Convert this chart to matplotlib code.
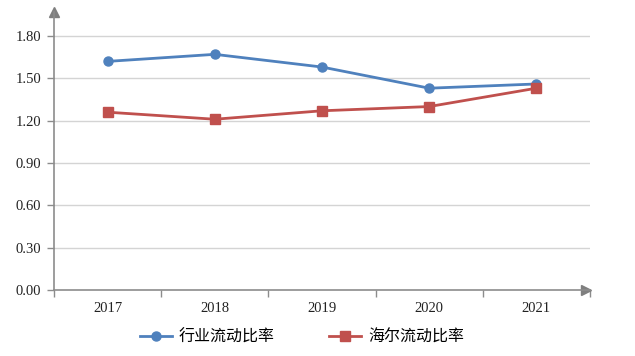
import numpy as np
import matplotlib.pyplot as plt

years = ["2017", "2018", "2019", "2020", "2021"]
industry = [1.62, 1.67, 1.58, 1.43, 1.46]
haier = [1.26, 1.21, 1.27, 1.30, 1.43]
yticks = [0.0, 0.3, 0.6, 0.9, 1.2, 1.5, 1.8]

BLUE = "#4F81BD"
RED = "#C0504D"
AXIS = "#8C8C8C"

fig = plt.figure(figsize=(6.35, 3.56), dpi=100)
ax = fig.add_axes([54 / 635, 1 - 290 / 356, 536 / 635, 278 / 356])

x = np.arange(len(years))
ax.plot(x, industry, color=BLUE, lw=2, marker="o", ms=6.5, label="行业流动比率", zorder=3)
ax.plot(x, haier, color=RED, lw=2, marker="s", ms=6.5, label="海尔流动比率", zorder=3)

ax.set_xlim(-0.5, len(years) - 0.5)
ax.set_ylim(0, 1.97)

# gridlines
for v in yticks[1:]:
    ax.axhline(v, color="#D4D4D4", lw=1, zorder=1)

for s in ["top", "right"]:
    ax.spines[s].set_visible(False)
for s in ["left", "bottom"]:
    ax.spines[s].set_color(AXIS)
    ax.spines[s].set_linewidth(1.2)

# axis arrows
ax.plot(0, 1, marker="^", color="#7F7F7F", ms=7, transform=ax.transAxes, clip_on=False)
ax.plot(0.993, 0, marker=">", color="#7F7F7F", ms=7, transform=ax.transAxes, clip_on=False)

ax.set_yticks(yticks)
ax.set_yticklabels([f"{v:.2f}" for v in yticks])
ax.set_xticks(x)
ax.set_xticklabels(years)
ax.set_xticks(np.arange(len(years) + 1) - 0.5, minor=True)
ax.tick_params(axis="x", which="major", length=0, pad=9)
ax.tick_params(axis="x", which="minor", length=5, color=AXIS, width=1)
ax.tick_params(axis="y", length=5, color=AXIS, width=1, pad=4)
for lab in ax.get_xticklabels() + ax.get_yticklabels():
    lab.set_fontfamily("Liberation Serif")
    lab.set_fontsize(10.5)
    lab.set_color("#222222")

fig.legend(loc="center", bbox_to_anchor=(302 / 635, 1 - 337 / 356), ncol=2,
           frameon=False, handlelength=2.0, columnspacing=3.4, handletextpad=0.45,
           prop={"family": ["Noto Sans CJK SC", "DejaVu Sans"], "size": 11.5})

fig.savefig("out.png", dpi=100)
